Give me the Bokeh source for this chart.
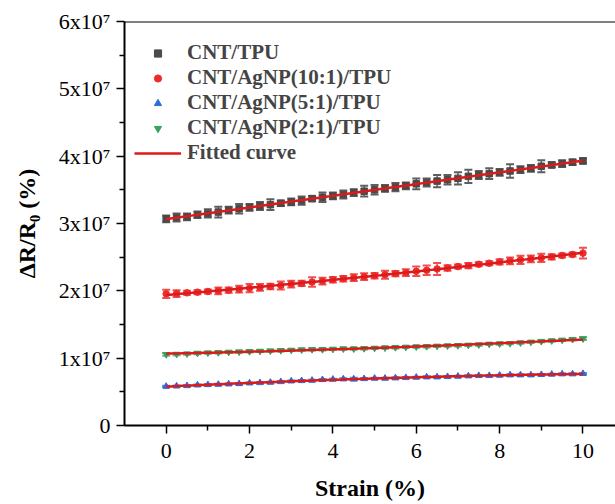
import numpy as np
from bokeh.plotting import figure
from bokeh.models import (ColumnDataSource, Whisker, TeeHead, FixedTicker, Span,
                          Legend, LegendItem, Range1d)
from bokeh.embed import file_html
from bokeh.resources import INLINE

# ---------------- data (values in units of 1e7 %) ----------------
strain = [0.0, 0.25, 0.5, 0.75, 1.0, 1.25, 1.5, 1.75, 2.0, 2.25, 2.5, 2.75, 3.0,
          3.25, 3.5, 3.75, 4.0, 4.25, 4.5, 4.75, 5.0, 5.25, 5.5, 5.75, 6.0, 6.25,
          6.5, 6.75, 7.0, 7.25, 7.5, 7.75, 8.0, 8.25, 8.5, 8.75, 9.0, 9.25, 9.5,
          9.75, 10.0]

cnt_tpu = [3.07, 3.09, 3.10, 3.13, 3.15, 3.17, 3.20, 3.22, 3.24, 3.26, 3.28, 3.30,
           3.32, 3.34, 3.37, 3.39, 3.41, 3.43, 3.46, 3.48, 3.50, 3.52, 3.54, 3.56,
           3.59, 3.61, 3.63, 3.65, 3.67, 3.70, 3.72, 3.74, 3.76, 3.78, 3.80, 3.82,
           3.85, 3.87, 3.89, 3.91, 3.93]
cnt_tpu_err = [0.05, 0.06, 0.05, 0.05, 0.06, 0.08, 0.05, 0.07, 0.05, 0.06, 0.08, 0.04,
               0.05, 0.06, 0.04, 0.07, 0.05, 0.06, 0.05, 0.08, 0.07, 0.05, 0.06, 0.05,
               0.08, 0.06, 0.09, 0.07, 0.09, 0.10, 0.06, 0.08, 0.05, 0.10, 0.05, 0.05,
               0.09, 0.04, 0.05, 0.04, 0.04]

agnp_10 = [1.955, 1.96, 1.97, 1.98, 1.99, 2.00, 2.01, 2.025, 2.04, 2.05, 2.065, 2.08,
           2.10, 2.11, 2.13, 2.145, 2.165, 2.18, 2.195, 2.21, 2.225, 2.24, 2.255,
           2.27, 2.29, 2.305, 2.325, 2.34, 2.36, 2.375, 2.395, 2.41, 2.43, 2.445,
           2.46, 2.475, 2.49, 2.505, 2.525, 2.54, 2.56]
agnp_10_err = [0.06, 0.05, 0.03, 0.03, 0.03, 0.05, 0.04, 0.05, 0.06, 0.05, 0.04, 0.06,
               0.05, 0.04, 0.07, 0.05, 0.04, 0.04, 0.05, 0.05, 0.04, 0.06, 0.04, 0.05,
               0.07, 0.07, 0.09, 0.04, 0.03, 0.04, 0.03, 0.03, 0.04, 0.05, 0.06, 0.05,
               0.06, 0.04, 0.03, 0.03, 0.08]

agnp_5 = [0.58, 0.585, 0.59, 0.60, 0.605, 0.61, 0.615, 0.62, 0.63, 0.635, 0.64, 0.65,
          0.66, 0.665, 0.67, 0.68, 0.685, 0.69, 0.69, 0.695, 0.70, 0.70, 0.705, 0.71,
          0.715, 0.72, 0.72, 0.725, 0.73, 0.735, 0.74, 0.74, 0.745, 0.75, 0.75, 0.75,
          0.755, 0.76, 0.765, 0.765, 0.77]
agnp_5_err = [0.01, 0.01, 0.01, 0.01, 0.01, 0.01, 0.01, 0.01, 0.01, 0.01, 0.01, 0.01,
              0.01, 0.01, 0.01, 0.01, 0.01, 0.01, 0.02, 0.01, 0.01, 0.01, 0.01, 0.01,
              0.01, 0.01, 0.01, 0.01, 0.01, 0.01, 0.01, 0.01, 0.01, 0.01, 0.01, 0.01,
              0.01, 0.01, 0.01, 0.01, 0.01]

agnp_2 = [1.055, 1.06, 1.065, 1.075, 1.08, 1.085, 1.09, 1.095, 1.10, 1.105, 1.11,
          1.115, 1.12, 1.125, 1.13, 1.13, 1.135, 1.14, 1.14, 1.145, 1.15, 1.155, 1.16,
          1.165, 1.17, 1.175, 1.18, 1.185, 1.19, 1.195, 1.20, 1.21, 1.215, 1.22, 1.23,
          1.24, 1.25, 1.26, 1.27, 1.28, 1.29]
agnp_2_err = [0.02, 0.015, 0.015, 0.015, 0.015, 0.015, 0.015, 0.015, 0.015, 0.015,
              0.015, 0.015, 0.015, 0.015, 0.015, 0.015, 0.015, 0.015, 0.015, 0.015,
              0.015, 0.015, 0.015, 0.015, 0.015, 0.015, 0.015, 0.015, 0.015, 0.015,
              0.015, 0.015, 0.015, 0.015, 0.015, 0.015, 0.015, 0.015, 0.015, 0.015,
              0.02]

series_names = ["CNT/TPU", "CNT/AgNP(10:1)/TPU", "CNT/AgNP(5:1)/TPU", "CNT/AgNP(2:1)/TPU"]
series_vals = [cnt_tpu, agnp_10, agnp_5, agnp_2]
series_errs = [cnt_tpu_err, agnp_10_err, agnp_5_err, agnp_2_err]
scale = 1e7

y_tick_vals = [0, 10000000, 20000000, 30000000, 40000000, 50000000, 60000000]
y_tick_labels = ["0", "1x10\u2077", "2x10\u2077", "3x10\u2077", "4x10\u2077", "5x10\u2077", "6x10\u2077"]
x_tick_vals = [0, 2, 4, 6, 8, 10]

# ---------------- styling ----------------
marker_types = ["square", "circle", "triangle", "inverted_triangle"]
marker_colors = ["#4a4a4a", "#ee2a2a", "#2d6bd6", "#35a060"]
err_colors = ["#5e5e5e", "#f05050", "#5b8be0", "#60b880"]
fit_color = "#dd1a1a"
serif = "Liberation Serif"

p = figure(width=615, height=504, output_backend="svg", toolbar_location=None,
           x_range=Range1d(-1, 10.78), y_range=Range1d(0, 6e7),
           min_border_left=124, min_border_right=0, min_border_top=21,
           min_border_bottom=79)
p.outline_line_color = None
p.grid.grid_line_color = None
p.background_fill_color = "white"
p.border_fill_color = "white"

x = np.array(strain)
scatter_renderers = []
fit_renderers = []
for name, vals, errs, mk, mc, ec in zip(series_names, series_vals, series_errs,
                                        marker_types, marker_colors, err_colors):
    y = np.array(vals) * scale
    e = np.array(errs) * scale
    src = ColumnDataSource(dict(x=x, y=y, lo=y - e, hi=y + e))
    w = Whisker(base="x", lower="lo", upper="hi", source=src, line_color=ec,
                line_width=1.5,
                upper_head=TeeHead(size=8, line_color=ec, line_width=2),
                lower_head=TeeHead(size=8, line_color=ec, line_width=2))
    p.add_layout(w)
    r = p.scatter("x", "y", source=src, marker=mk, size=6.5, fill_color=mc,
                  line_color=mc)
    scatter_renderers.append(r)

for vals in series_vals:
    y = np.array(vals) * scale
    coef = np.polyfit(x, y, 2)
    xf = np.linspace(0, 10, 100)
    fr = p.line(xf, np.polyval(coef, xf), line_color=fit_color, line_width=2.5)
    fit_renderers.append(fr)

# top spine
p.add_layout(Span(location=6e7, dimension="width", line_color="black", line_width=2))

# axes
for ax in (p.xaxis[0], p.yaxis[0]):
    ax.axis_line_width = 2
    ax.axis_line_color = "black"
    ax.major_tick_line_width = 1.5
    ax.minor_tick_line_width = 1.5
    ax.major_tick_in = 0
    ax.major_tick_out = 8
    ax.minor_tick_in = 0
    ax.minor_tick_out = 5
    ax.major_label_text_font = serif
    ax.major_label_text_font_size = "22px"
    ax.major_label_text_color = "black"
    ax.axis_label_text_font = serif
    ax.axis_label_text_font_style = "bold"
    ax.axis_label_text_font_size = "24px"
    ax.axis_label_text_color = "black"

p.xaxis.ticker = FixedTicker(ticks=x_tick_vals, minor_ticks=[1, 3, 5, 7, 9])
p.xaxis.axis_label = "Strain (%)"
p.xaxis.major_label_standoff = 10
p.xaxis.axis_label_standoff = 14

p.yaxis.ticker = FixedTicker(ticks=y_tick_vals,
                             minor_ticks=[5000000, 15000000, 25000000, 35000000,
                                          45000000, 55000000])
p.yaxis.major_label_overrides = dict(zip(y_tick_vals, y_tick_labels))
p.yaxis.axis_label = "\u0394R/R\u2080 (%)"
p.yaxis.major_label_standoff = 6
p.yaxis.axis_label_standoff = 16

items = [LegendItem(label=n, renderers=[r]) for n, r in zip(series_names, scatter_renderers)]
items.append(LegendItem(label="Fitted curve", renderers=[fit_renderers[0]]))
legend = Legend(items=items, location=(10, 260), background_fill_alpha=0,
                border_line_color=None, label_text_font=serif,
                label_text_font_style="bold", label_text_font_size="21px",
                glyph_width=47, glyph_height=18, label_height=20, spacing=0,
                padding=4, margin=0, label_standoff=6)
p.add_layout(legend)

open("out.html", "w").write(file_html(p, INLINE))
